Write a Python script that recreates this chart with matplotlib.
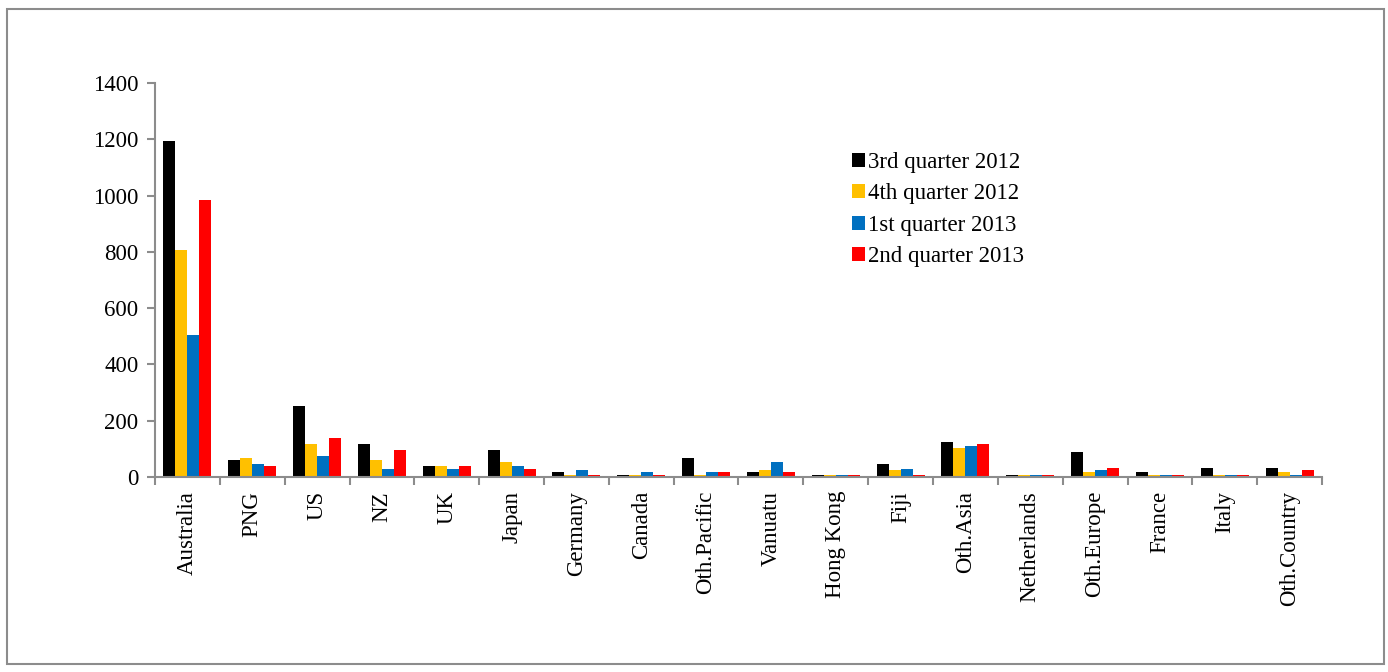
import matplotlib
matplotlib.use("Agg")
import matplotlib.pyplot as plt
import numpy as np
from matplotlib.patches import Rectangle

plt.rcParams['font.family'] = ['Liberation Serif', 'DejaVu Serif']

categories = ["Australia", "PNG", "US", "NZ", "UK", "Japan", "Germany", "Canada",
              "Oth.Pacific", "Vanuatu", "Hong Kong", "Fiji", "Oth.Asia", "Netherlands",
              "Oth.Europe", "France", "Italy", "Oth.Country"]
series_names = ["3rd quarter 2012", "4th quarter 2012", "1st quarter 2013", "2nd quarter 2013"]
q3_2012 = [1195, 60, 252, 118, 38, 97, 17, 8, 67, 17, 8, 45, 126, 8, 90, 17, 31, 31]
q4_2012 = [808, 66, 118, 60, 38, 53, 8, 8, 8, 24, 8, 24, 104, 8, 17, 8, 8, 17]
q1_2013 = [505, 45, 74, 30, 30, 38, 24, 17, 17, 53, 8, 30, 111, 8, 24, 8, 8, 8]
q2_2013 = [985, 38, 139, 97, 38, 30, 8, 8, 17, 17, 8, 8, 119, 8, 31, 8, 8, 24]
colors = ["#000000", "#FFC000", "#0070C0", "#FF0000"]
yticks = [0, 200, 400, 600, 800, 1000, 1200, 1400]

W, H = 1388, 672
fig = plt.figure(figsize=(W / 100, H / 100), dpi=100)
ax = fig.add_axes([155 / W, 1 - 477 / H, (1322 - 155) / W, (477 - 83) / H])

# outer border
fig.patches.append(Rectangle((7 / W, 1 - 664 / H), (1384 - 7) / W, (664 - 9) / H,
                             transform=fig.transFigure, fill=False,
                             edgecolor="#8c8c8c", linewidth=1.5))

data = [q3_2012, q4_2012, q1_2013, q2_2013]
n = len(categories)
x = np.arange(n)
bw = 0.185
for i, (vals, c, name) in enumerate(zip(data, colors, series_names)):
    ax.bar(x + (i - 1.5) * bw, vals, width=bw, color=c, label=name, linewidth=0)

ax.set_xlim(-0.5, n - 0.5)
ax.set_ylim(0, 1400)
ax.set_yticks(yticks)
ax.set_yticklabels([str(v) for v in yticks], fontsize=16.5)
ax.set_xticks(x)
ax.set_xticklabels(categories, rotation=90, fontsize=16.5)
ax.set_xticks(np.arange(-0.5, n, 1), minor=True)
ax.tick_params(axis='x', which='major', length=0, pad=10)
ax.tick_params(axis='x', which='minor', length=6, width=1.5, color="#8c8c8c", direction='out')
ax.tick_params(axis='y', length=6, width=1.5, color="#8c8c8c", direction='out', pad=6)
for s in ["top", "right"]:
    ax.spines[s].set_visible(False)
for s in ["left", "bottom"]:
    ax.spines[s].set_color("#8c8c8c")
    ax.spines[s].set_linewidth(1.5)

leg = ax.legend(loc='upper left', bbox_to_anchor=((843 - 155) / (1322 - 155), (477 - 143) / (477 - 83)),
                frameon=False, fontsize=16.5, handlelength=0.55, handleheight=0.55,
                handletextpad=0.15, labelspacing=0.45, borderaxespad=0)

fig.savefig("out.png", dpi=100)
